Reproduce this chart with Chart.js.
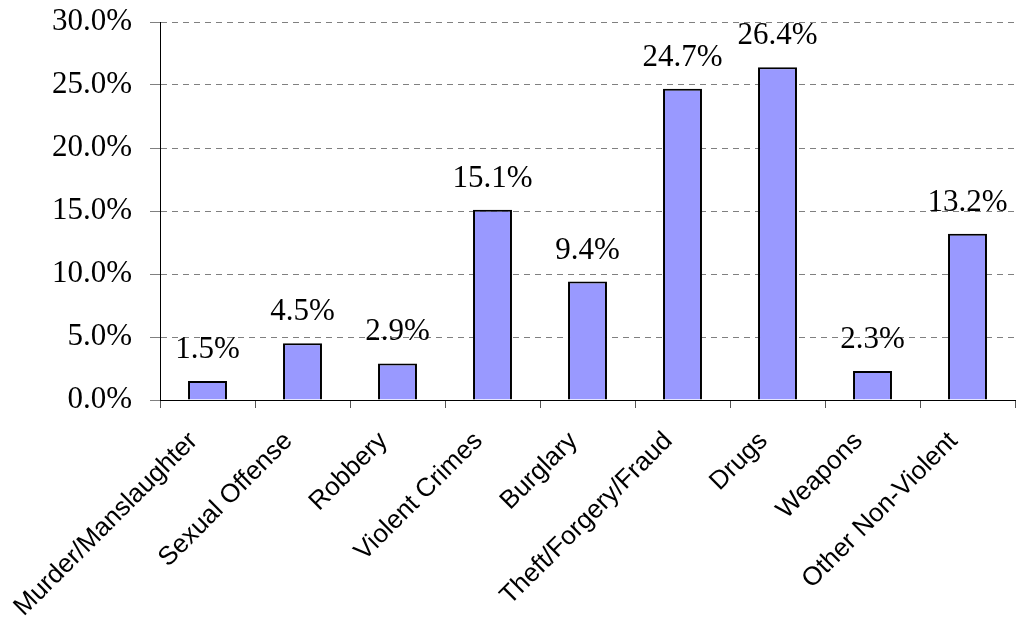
<!DOCTYPE html>
<html>
<head>
<meta charset="utf-8">
<script src="https://cdn.jsdelivr.net/npm/chart.js@4.4.1/dist/chart.umd.min.js"></script>
<style>
  html, body { margin: 0; padding: 0; background: #fff; }
  #wrap { width: 1016px; height: 619px; }
</style>
</head>
<body>
<div id="wrap"><canvas id="chart" width="1016" height="619"></canvas></div>
<script>
const categories = [
  "Murder/Manslaughter", "Sexual Offense", "Robbery", "Violent Crimes", "Burglary",
  "Theft/Forgery/Fraud", "Drugs", "Weapons", "Other Non-Violent"
];
const shares = [1.5, 4.5, 2.9, 15.1, 9.4, 24.7, 26.4, 2.3, 13.2];
const yTicks = [0, 5, 10, 15, 20, 25, 30];

// value labels above each bar
const barLabels = {
  id: "barLabels",
  afterDatasetsDraw(chart) {
    const ctx = chart.ctx;
    const meta = chart.getDatasetMeta(0);
    ctx.save();
    ctx.font = "31px 'Liberation Serif', 'Times New Roman', serif";
    ctx.fillStyle = "#000";
    ctx.textAlign = "center";
    ctx.textBaseline = "alphabetic";
    meta.data.forEach((bar, i) => {
      ctx.fillText(shares[i].toFixed(1) + "%", bar.x, bar.y - 23);
    });
    ctx.restore();
  }
};

new Chart(document.getElementById("chart"), {
  type: "bar",
  data: {
    labels: categories,
    datasets: [{
      data: shares,
      backgroundColor: "#9999FF",
      borderColor: "#000",
      borderWidth: 2,
      barPercentage: 0.41,
      categoryPercentage: 1
    }]
  },
  options: {
    responsive: false,
    animation: false,
    layout: { padding: { top: 22, right: 1, left: 0, bottom: 0 } },
    plugins: {
      legend: { display: false },
      tooltip: { enabled: false }
    },
    scales: {
      x: {
        offset: true,
        grid: {
          offset: true,
          drawOnChartArea: false,
          drawTicks: true,
          tickLength: 8,
          color: "#555",
          lineWidth: 1
        },
        border: { color: "#000", width: 1 },
        ticks: {
          minRotation: 45,
          maxRotation: 45,
          autoSkip: false,
          padding: 18,
          labelOffset: -14,
          color: "#000",
          font: { family: "'Liberation Sans', Arial, sans-serif", size: 26 }
        },
        afterFit(scale) { scale.height = 219; }
      },
      y: {
        min: 0,
        max: 30,
        afterBuildTicks(scale) { scale.ticks = yTicks.map(v => ({ value: v })); },
        grid: {
          color: "#808080",
          lineWidth: 1,
          tickLength: 10,
          drawTicks: true
        },
        border: { color: "#000", width: 1, dash: [6, 5] },
        ticks: {
          padding: 18,
          color: "#000",
          font: { family: "'Liberation Serif', 'Times New Roman', serif", size: 31 },
          callback: (v) => Number(v).toFixed(1) + "%"
        },
        afterFit(scale) {
          scale.width = 160;
          scale.paddingTop = 0;
          scale.paddingBottom = 0;
        }
      }
    }
  },
  plugins: [barLabels]
});
</script>
</body>
</html>
